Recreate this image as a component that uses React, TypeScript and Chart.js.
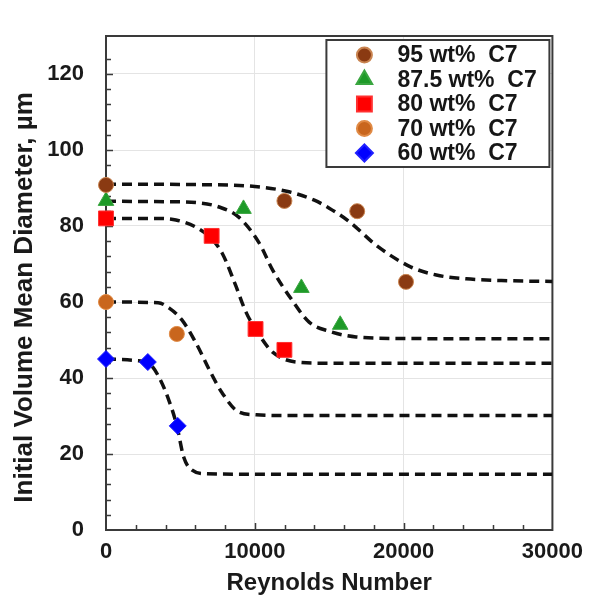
import React, { useEffect, useRef } from 'react';
import { Chart, registerables } from 'chart.js';
import { drawPoint } from 'chart.js/helpers';

Chart.register(...registerables);

const FONT = 'Arial, "Liberation Sans", Helvetica, sans-serif';

// Series (legend) definitions
const seriesLabels = ['95 wt%  C7', '87.5 wt%  C7', '80 wt%  C7', '70 wt%  C7', '60 wt%  C7'];
const seriesColors = ['#8a3a12', '#1e9a28', '#ff0000', '#c9661d', '#0000ff'];
const seriesBorders = ['#c98450', '#3aa640', '#ff3030', '#e08a45', '#2020ff'];
const seriesStyles = ['circle', 'triangle', 'rect', 'circle', 'rectRot'];
const seriesRadius = [7.5, 9, 10.5, 7.5, 8.5];

// Measured points (Reynolds number, diameter µm)
const re95 = [0, 11990, 16880, 20160];
const d95 = [90.8, 86.6, 83.9, 65.3];
const re875 = [0, 9240, 13130, 15740];
const d875 = [86.6, 84.5, 63.7, 54.0];
const re80 = [0, 7100, 10050, 11990];
const d80 = [82.0, 77.4, 52.9, 47.4];
const re70 = [0, 4760];
const d70 = [60.0, 51.6];
const re60 = [0, 2810, 4820];
const d60 = [45.0, 44.2, 27.4];

// Fitted curves
const fitRe95 = [0, 6000, 10000, 12300, 14000, 15000, 16300, 18300, 20500, 22200, 24200, 27000, 30000];
const fit95 = [91.0, 90.9, 90.4, 89.0, 86.8, 84.7, 81.3, 74.5, 69.2, 67.1, 66.1, 65.6, 65.4];
const fitRe875 = [0, 4000, 6250, 7600, 8900, 10300, 11200, 12500, 13650, 15000, 16800, 20000, 30000];
const fit875 = [86.5, 86.4, 86.1, 85.0, 82.4, 75.5, 68.4, 60.5, 54.7, 52.3, 50.8, 50.4, 50.3];
const fitRe80 = [0, 3500, 4700, 6000, 7000, 7800, 8700, 9400, 10300, 11200, 12800, 15000, 30000];
const fit80 = [82.0, 82.0, 81.6, 79.8, 77.0, 72.9, 64.5, 57.4, 51.3, 46.8, 44.2, 43.9, 43.9];
const fitRe70 = [0, 3500, 4250, 5100, 6050, 6950, 7800, 8900, 10100, 12000, 30000];
const fit70 = [60.0, 59.8, 58.4, 55.3, 49.2, 42.1, 36.1, 31.1, 30.3, 30.1, 30.1];
const fitRe60 = [0, 2000, 2900, 3550, 4220, 4750, 5220, 5760, 6700, 9000, 30000];
const fit60 = [45.0, 44.6, 43.8, 40.3, 34.2, 27.6, 19.2, 15.8, 14.8, 14.7, 14.7];

// Axis settings
const xMin = 0, xMax = 30000, xStep = 2000, xMajor = 10000;
const yMin = 0, yMax = 130, yStep = 4, yMajor = 20;
const xTitle = 'Reynolds Number';
const yTitle = 'Initial Volume Mean Diameter, µm    ';

const pointsRe = [re95, re875, re80, re70, re60];
const pointsD = [d95, d875, d80, d70, d60];
const fitsRe = [fitRe95, fitRe875, fitRe80, fitRe70, fitRe60];
const fitsD = [fit95, fit875, fit80, fit70, fit60];

const zip = (xs: number[], ys: number[]) => xs.map((x, i) => ({ x, y: ys[i] }));

const framePlugin = {
  id: 'frameAndLegend',
  beforeDatasetsDraw(chart: any) {
    const { ctx, chartArea: a, scales } = chart;
    const x = scales.x;
    const y = scales.y;
    ctx.save();
    ctx.strokeStyle = '#3a3a3a';
    ctx.lineWidth = 1.5;
    ctx.beginPath();
    y.ticks.forEach((t: any) => {
      if (t.value <= yMin || t.value >= yMax) return;
      const py = Math.round(y.getPixelForValue(t.value)) + 0.5;
      const len = t.value % yMajor === 0 ? 7 : 5;
      ctx.moveTo(a.left, py);
      ctx.lineTo(a.left + len, py);
    });
    x.ticks.forEach((t: any) => {
      if (t.value <= xMin || t.value >= xMax) return;
      const px = Math.round(x.getPixelForValue(t.value)) + 0.5;
      const len = t.value % xMajor === 0 ? 7 : 5;
      ctx.moveTo(px, a.bottom);
      ctx.lineTo(px, a.bottom - len);
    });
    ctx.stroke();
    ctx.lineWidth = 2;
    ctx.strokeRect(a.left, a.top, a.right - a.left, a.bottom - a.top);
    ctx.restore();
  },
  afterDatasetsDraw(chart: any) {
    const { ctx, chartArea: a } = chart;
    const w = 223;
    const h = 127;
    const left = a.right - 3 - w;
    const top = a.top + 4;
    ctx.save();
    ctx.fillStyle = '#ffffff';
    ctx.fillRect(left, top, w, h);
    ctx.strokeStyle = '#3a3a3a';
    ctx.lineWidth = 2;
    ctx.strokeRect(left, top, w, h);
    ctx.font = `bold 23px ${FONT}`;
    ctx.textBaseline = 'middle';
    ctx.textAlign = 'left';
    seriesLabels.forEach((label, i) => {
      const cy = top + 15 + i * 24.5;
      ctx.fillStyle = seriesColors[i];
      ctx.strokeStyle = seriesBorders[i];
      drawPoint(ctx, { pointStyle: seriesStyles[i], radius: seriesRadius[i], rotation: 0, borderWidth: 1 } as any, left + 38, cy);
      ctx.fillStyle = '#161616';
      ctx.fillText(label, left + 71, cy + 1);
    });
    ctx.restore();
  },
};

export default function App() {
  const ref = useRef<HTMLCanvasElement | null>(null);

  useEffect(() => {
    if (!ref.current) return;
    const pointSets = seriesLabels.map((label, i) => ({
      type: 'scatter' as const,
      label,
      data: zip(pointsRe[i], pointsD[i]),
      showLine: false,
      pointStyle: seriesStyles[i],
      pointRadius: seriesRadius[i],
      pointHoverRadius: seriesRadius[i],
      backgroundColor: seriesColors[i],
      borderColor: seriesBorders[i],
      borderWidth: 1,
      clip: false as any,
      order: 0,
    }));
    const fitSets = seriesLabels.map((label, i) => ({
      type: 'line' as const,
      label: label + ' fit',
      data: zip(fitsRe[i], fitsD[i]),
      borderColor: '#111111',
      borderWidth: 3.5,
      borderDash: [10, 6],
      pointRadius: 0,
      cubicInterpolationMode: 'monotone' as const,
      fill: false,
      order: 1,
    }));

    const chart = new Chart(ref.current, {
      type: 'scatter',
      data: { datasets: [...fitSets, ...pointSets] as any },
      options: {
        animation: false,
        responsive: false,
        devicePixelRatio: 1,
        layout: { padding: { top: 36, right: 38, left: 0, bottom: 0 } },
        plugins: {
          legend: { display: false },
          tooltip: { enabled: false },
        },
        scales: {
          x: {
            type: 'linear',
            min: xMin,
            max: xMax,
            afterFit: (s: any) => { s.height = 72; },
            border: { display: false },
            grid: {
              drawTicks: false,
              color: (c: any) => (c.tick && c.tick.value % xMajor === 0 && c.tick.value > xMin && c.tick.value < xMax ? '#e4e4e4' : 'rgba(0,0,0,0)'),
              lineWidth: 1,
            },
            ticks: {
              stepSize: xStep,
              autoSkip: false,
              maxRotation: 0,
              padding: 9,
              color: '#1a1a1a',
              font: { family: FONT, size: 22, weight: 'bold' },
              callback: (v: any) => (Number(v) % xMajor === 0 ? String(v) : ''),
            },
            title: {
              display: true,
              text: xTitle,
              color: '#1a1a1a',
              font: { family: FONT, size: 24, weight: 'bold' },
              padding: { top: 0, bottom: 4 },
            },
          },
          y: {
            type: 'linear',
            min: yMin,
            max: yMax,
            afterFit: (s: any) => { s.width = 106; },
            border: { display: false },
            grid: {
              drawTicks: false,
              color: (c: any) => (c.tick && c.tick.value % yMajor === 0 && c.tick.value > yMin ? '#e4e4e4' : 'rgba(0,0,0,0)'),
              lineWidth: 1,
            },
            ticks: {
              stepSize: yStep,
              autoSkip: false,
              padding: 22,
              color: '#1a1a1a',
              font: { family: FONT, size: 22, weight: 'bold' },
              callback: (v: any) => (Number(v) % yMajor === 0 ? String(v) : ''),
            },
            title: {
              display: true,
              text: yTitle,
              color: '#1a1a1a',
              font: { family: FONT, size: 26, weight: 'bold' },
              padding: { top: 9, bottom: 0 },
            },
          },
        },
      },
      plugins: [framePlugin],
    });
    return () => chart.destroy();
  }, []);

  return (
    <div style={{ position: 'fixed', left: 0, top: 0, width: 592, height: 602, background: '#ffffff' }}>
      <canvas ref={ref} width={592} height={602} style={{ display: 'block', width: 592, height: 602 }} />
    </div>
  );
}
